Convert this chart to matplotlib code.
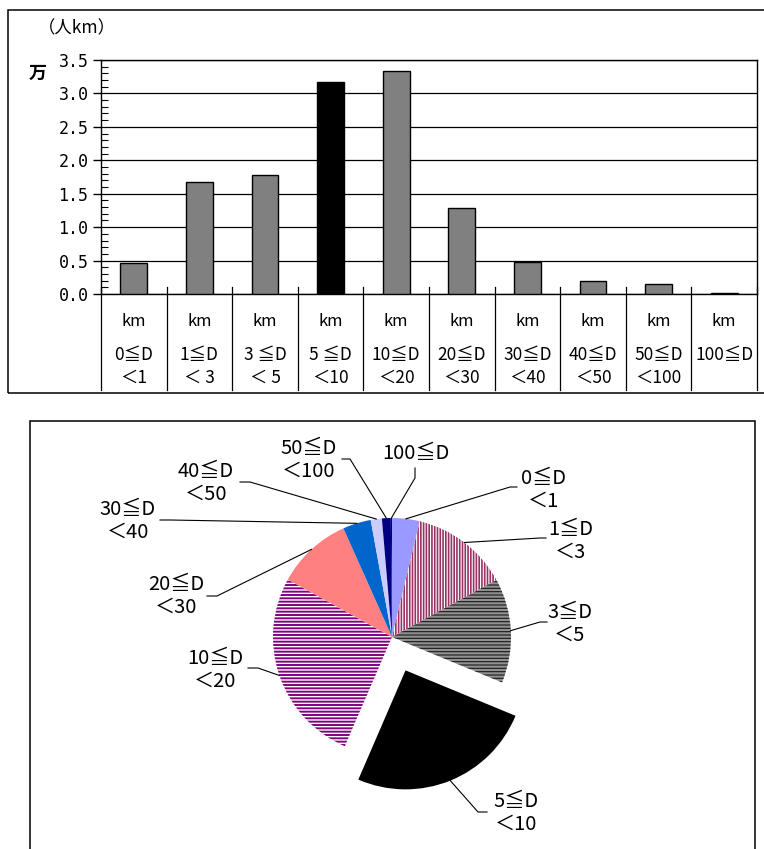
import matplotlib
matplotlib.use('Agg')
import matplotlib.pyplot as plt
import numpy as np
from matplotlib.patches import Rectangle
from matplotlib.transforms import blended_transform_factory
from matplotlib.ticker import MultipleLocator, FormatStrFormatter

plt.rcParams['font.family'] = ['Noto Sans CJK JP', 'DejaVu Sans']
plt.rcParams['hatch.linewidth'] = 1.2

# ---------------- data ----------------
range_top = ['0≦D', '1≦D', '3 ≦D', '5 ≦D', '10≦D', '20≦D', '30≦D', '40≦D', '50≦D', '100≦D']
range_bottom = ['＜1', '＜ 3', '＜ 5', '＜10', '＜20', '＜30', '＜40', '＜50', '＜100', '']
unit_row = ['km'] * 10
values = [0.47, 1.67, 1.78, 3.17, 3.33, 1.29, 0.48, 0.19, 0.15, 0.02]
bar_colors = ['#808080', '#808080', '#808080', '#000000', '#808080',
              '#808080', '#808080', '#808080', '#808080', '#808080']
y_ticks = [0.0, 0.5, 1.0, 1.5, 2.0, 2.5, 3.0, 3.5]

pie_labels = ['0≦D\n＜1', '1≦D\n＜3', '3≦D\n＜5', '5≦D\n＜10', '10≦D\n＜20',
              '20≦D\n＜30', '30≦D\n＜40', '40≦D\n＜50', '50≦D\n＜100', '100≦D']
pie_colors = ['#9999FF', '#FFFFFF', '#909090', '#000000', '#FFFFFF',
              '#FF8080', '#0066CC', '#CCCCFF', '#000080', '#000080']
pie_hatches = ['', '||||||', '-----', '', '-----', '', '', '', '', '']
pie_hatch_colors = ['none', '#993366', '#1A1A1A', 'none', '#800080',
                    'none', 'none', 'none', 'none', 'none']
pie_hatch_widths = [0, 1.2, 0.8, 0, 1.4, 0, 0, 0, 0, 0]

# ---------------- layout helpers ----------------
W, H = 764, 849
def fx(x):
    return x / W
def fy(y):
    return 1 - y / H

fig = plt.figure(figsize=(W / 100, H / 100), dpi=100, facecolor='white')

# frames
fig.patches.append(Rectangle((fx(8), fy(393)), fx(780) - fx(8), fy(10) - fy(393),
                             transform=fig.transFigure, fill=False, ec='black', lw=1.1))
fig.patches.append(Rectangle((fx(30), fy(870)), fx(755) - fx(30), fy(421) - fy(870),
                             transform=fig.transFigure, fill=False, ec='black', lw=1.1))

# ---------------- bar chart ----------------
ax = fig.add_axes([fx(101), fy(294), fx(757) - fx(101), fy(60) - fy(294)])
x = np.arange(len(values))
ax.bar(x, values, width=0.41, color=bar_colors, edgecolor='black', linewidth=1.0, zorder=3)
ax.set_xlim(-0.5, len(values) - 0.5)
ax.set_ylim(0, 3.5)
ax.set_yticks(y_ticks)
ax.yaxis.set_major_formatter(FormatStrFormatter('%.1f'))
ax.yaxis.set_minor_locator(MultipleLocator(0.1))
ax.set_xticks([])
ax.yaxis.grid(True, which='major', color='black', lw=0.9)
ax.set_axisbelow(True)
for s in ax.spines.values():
    s.set_color('black')
    s.set_linewidth(1.0)
ax.tick_params(axis='y', which='major', direction='out', length=6, width=1,
               labelsize=12, pad=3, labelfontfamily='DejaVu Sans Mono')
ax.tick_params(axis='y', which='minor', direction='in', length=5, width=0.8)

trans = blended_transform_factory(ax.transData, fig.transFigure)
for b in np.arange(-0.5, len(values), 1.0):
    ax.plot([b, b], [fy(287), fy(390)], transform=trans, color='black', lw=0.9, clip_on=False)
for i in range(len(values)):
    ax.text(i, fy(322), unit_row[i], transform=trans, ha='center', va='center', fontsize=12)
    ax.text(i, fy(355), range_top[i], transform=trans, ha='center', va='center', fontsize=12.5)
    ax.text(i, fy(378), range_bottom[i], transform=trans, ha='center', va='center', fontsize=12.5)

fig.text(fx(77), fy(28), '（人km）', ha='center', va='center', fontsize=12.5)
fig.text(fx(38), fy(73), '万', ha='center', va='center', fontsize=13, fontweight='bold')

# ---------------- pie chart ----------------
ax2 = fig.add_axes([0, 0, 1, 1], facecolor='none')
explode = [36 if i == 3 else 0 for i in range(len(values))]
wedges, _ = ax2.pie(values, colors=pie_colors, startangle=90, counterclock=False,
                    center=(392, H - 637), radius=119, explode=explode,
                    wedgeprops=dict(linewidth=0))
for w, h, hc, hw in zip(wedges, pie_hatches, pie_hatch_colors, pie_hatch_widths):
    if h:
        w.set_hatch(h)
        w.set_edgecolor(hc)
        w.set_linewidth(0)
        try:
            w.set_hatch_linewidth(hw)
        except AttributeError:
            w._hatch_linewidth = hw
ax2.set_xlim(0, W)
ax2.set_ylim(0, H)
ax2.set_aspect('equal')
ax2.axis('off')

# label layout: block centre, elbow point, end point (pixels, y down)
label_centre = [(544, 490), (571, 541), (570, 624), (516, 813), (215, 670),
                (176, 596), (128, 521), (206, 483), (309, 460), (416, 453)]
leader_elbow = [(510, 487), (540, 538), (540, 622), (478, 812), (258, 668),
                (217, 596), (170, 520), (250, 482), (350, 459), (415, 478)]
leader_end = [(517, 487), (546, 538), (547, 622), (487, 812), (248, 668),
              (207, 596), (160, 520), (240, 482), (342, 459), (415, 468)]

for w, lab, (cx, cy), (ex, ey), (ux, uy) in zip(wedges, pie_labels, label_centre,
                                                leader_elbow, leader_end):
    th = np.deg2rad((w.theta1 + w.theta2) / 2)
    ax_ = w.center[0] + w.r * np.cos(th)
    ay_ = w.center[1] + w.r * np.sin(th)
    ax2.plot([ax_, ex, ux], [ay_, H - ey, H - uy], color='black', lw=0.8)
    lines = lab.split('\n')
    if len(lines) == 2:
        ax2.text(cx, H - (cy - 11.5), lines[0], ha='center', va='center', fontsize=14.5)
        ax2.text(cx, H - (cy + 11.5), lines[1], ha='center', va='center', fontsize=14.5)
    else:
        ax2.text(cx, H - cy, lines[0], ha='center', va='center', fontsize=14.5)

fig.savefig('out.png', dpi=100, facecolor='white')
